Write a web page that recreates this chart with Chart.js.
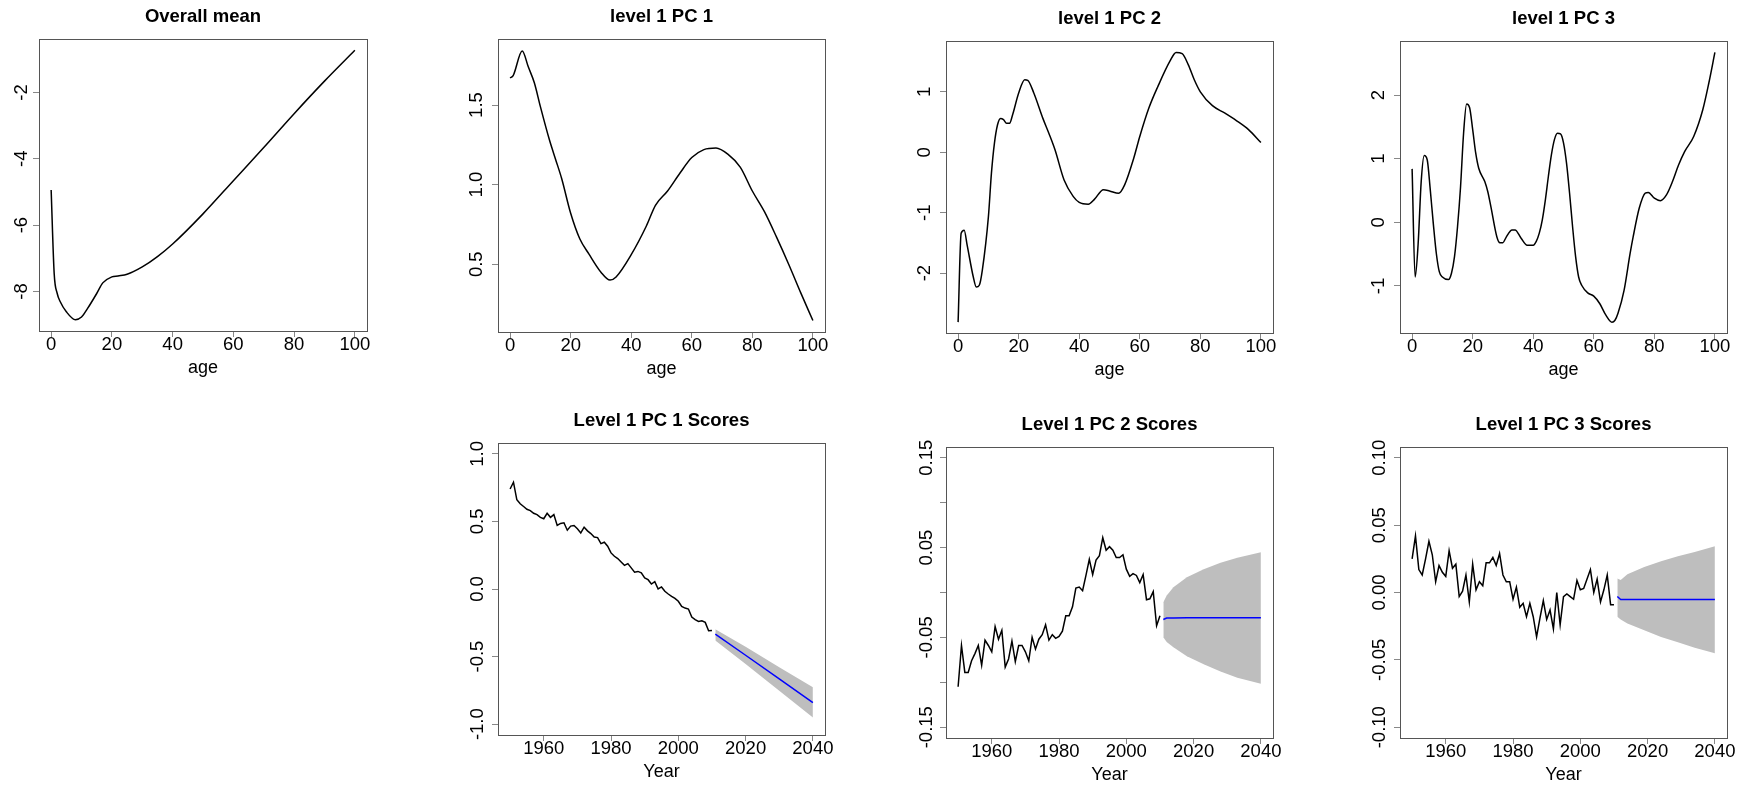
<!DOCTYPE html>
<html>
<head>
<meta charset="utf-8">
<script src="https://cdn.jsdelivr.net/npm/chart.js@4.4.0/dist/chart.umd.min.js"></script>
<style>
body { margin: 0; background: #fff; width: 1745px; height: 785px; overflow: hidden; position: relative; }
canvas { position: absolute; }
</style>
</head>
<body>
<script>
// ---- age curves (top row) ----
var ageTicks = [0, 20, 40, 60, 80, 100];

var meanAges = [0, 1, 2, 3, 5, 8, 10, 12, 15, 17, 20, 22, 25, 30, 35, 40, 50, 60, 70, 80, 90, 100];
var meanVals = [-4.94, -7.46, -8.06, -8.31, -8.61, -8.85, -8.77, -8.51, -8.06, -7.74, -7.56, -7.53, -7.48, -7.26, -6.95, -6.57, -5.66, -4.66, -3.66, -2.64, -1.66, -0.73];
var meanTicks = [-8, -6, -4, -2];

var pc1Ages = [0, 1, 4, 6, 8, 10, 13, 15, 17, 20, 23, 26, 30, 33, 35, 40, 45, 48, 52, 56, 60, 64, 68, 72, 76, 80, 84, 88, 92, 96, 100];
var pc1Vals = [1.67, 1.685, 1.84, 1.74, 1.64, 1.49, 1.28, 1.16, 1.04, 0.82, 0.66, 0.565, 0.45, 0.40, 0.42, 0.56, 0.74, 0.87, 0.96, 1.07, 1.17, 1.22, 1.23, 1.19, 1.11, 0.96, 0.83, 0.67, 0.50, 0.32, 0.146];
var pc1Ticks = [0.5, 1.0, 1.5];

var pc2Ages = [0, 1, 2, 3, 5, 6, 7, 8, 10, 11, 12, 13, 14, 15, 16, 17, 18, 20, 22, 23, 25, 28, 30, 32, 35, 38, 40, 43, 45, 48, 50, 53, 55, 58, 60, 63, 66, 70, 72, 74, 76, 78, 80, 84, 88, 92, 96, 100];
var pc2Vals = [-2.81, -1.34, -1.29, -1.54, -2.06, -2.23, -2.20, -1.95, -1.07, -0.35, 0.15, 0.45, 0.56, 0.54, 0.48, 0.48, 0.62, 0.98, 1.20, 1.19, 0.98, 0.56, 0.31, 0.04, -0.46, -0.73, -0.83, -0.86, -0.78, -0.62, -0.64, -0.68, -0.54, -0.10, 0.26, 0.73, 1.09, 1.51, 1.65, 1.63, 1.45, 1.20, 1.00, 0.77, 0.65, 0.52, 0.37, 0.16];
var pc2Ticks = [-2, -1, 0, 1];

var pc3Ages = [0, 1, 2, 3, 4, 5, 6, 7, 8, 9, 10, 12, 13, 14, 15, 16, 17, 18, 19, 20, 21, 22, 24, 25, 26, 28, 29, 30, 31, 33, 34, 36, 38, 40, 41, 42, 43, 44, 45, 46, 47, 48, 49, 50, 51, 52, 53, 54, 55, 56, 58, 60, 62, 64, 66, 67, 68, 70, 72, 73, 75, 77, 78, 80, 82, 84, 86, 88, 90, 93, 96, 98, 100];
var pc3Vals = [0.84, -0.86, -0.33, 0.64, 1.05, 0.98, 0.51, -0.02, -0.49, -0.78, -0.86, -0.90, -0.80, -0.54, -0.07, 0.56, 1.40, 1.86, 1.80, 1.46, 1.09, 0.85, 0.64, 0.48, 0.25, -0.23, -0.32, -0.32, -0.24, -0.12, -0.12, -0.25, -0.36, -0.36, -0.30, -0.17, 0.04, 0.35, 0.72, 1.06, 1.30, 1.40, 1.39, 1.25, 0.93, 0.46, -0.07, -0.54, -0.86, -0.99, -1.11, -1.16, -1.28, -1.46, -1.57, -1.54, -1.43, -1.07, -0.49, -0.23, 0.22, 0.46, 0.47, 0.38, 0.34, 0.43, 0.64, 0.90, 1.11, 1.35, 1.77, 2.19, 2.67];
var pc3Ticks = [-1, 0, 1, 2];

// ---- scores (bottom row), observed 1950..2010 ----
var firstYear = 1950;
var yearTicks = [1960, 1980, 2000, 2020, 2040];

var score1 = [0.74, 0.79, 0.66, 0.63, 0.61, 0.59, 0.58, 0.56, 0.55, 0.53,
  0.52, 0.56, 0.53, 0.55, 0.47, 0.485, 0.49, 0.435, 0.465, 0.47,
  0.445, 0.415, 0.457, 0.43, 0.41, 0.385, 0.38, 0.336, 0.346, 0.316,
  0.267, 0.242, 0.225, 0.20, 0.175, 0.188, 0.156, 0.124, 0.13, 0.119,
  0.082, 0.069, 0.037, 0.054, 0.0, 0.015, -0.017, -0.037, -0.054, -0.069,
  -0.091, -0.129, -0.141, -0.148, -0.208, -0.227, -0.24, -0.235, -0.247, -0.309, -0.307];
var fc1Years = [2011, 2020, 2030, 2040];
var fc1Mean = [-0.334, -0.49, -0.665, -0.841];
var fc1Upper = [-0.297, -0.428, -0.579, -0.727];
var fc1Lower = [-0.381, -0.554, -0.752, -0.95];
var score1Ticks = [-1, -0.5, 0, 0.5, 1];

var score2 = [-0.105, -0.059, -0.089, -0.089, -0.076, -0.068, -0.059, -0.081, -0.053, -0.059,
  -0.066, -0.038, -0.052, -0.042, -0.083, -0.074, -0.054, -0.077, -0.059, -0.059,
  -0.066, -0.076, -0.050, -0.063, -0.052, -0.047, -0.036, -0.053, -0.047, -0.051,
  -0.049, -0.043, -0.026, -0.026, -0.016, 0.005, 0.006, 0.002, 0.019, 0.037,
  0.020, 0.036, 0.041, 0.061, 0.047, 0.051, 0.047, 0.039, 0.039, 0.042,
  0.026, 0.018, 0.021, 0.019, 0.011, 0.020, -0.008, -0.007, 0.001, -0.037, -0.026];
var fc2Years = [2011, 2012, 2014, 2018, 2023, 2028, 2033, 2040];
var fc2Mean = [-0.030, -0.0285, -0.0285, -0.0282, -0.0282, -0.0282, -0.0282, -0.0282];
var fc2Upper = [-0.0108, -0.0033, 0.0059, 0.017, 0.026, 0.033, 0.0386, 0.0448];
var fc2Lower = [-0.0497, -0.055, -0.061, -0.071, -0.080, -0.088, -0.095, -0.1016];
var score2Ticks = [-0.15, -0.10, -0.05, 0, 0.05, 0.10, 0.15];
var score2Labels = ['-0.15', '-0.05', '0.05', '0.15'];

var score3 = [0.025, 0.042, 0.017, 0.013, 0.025, 0.038, 0.028, 0.008, 0.020, 0.015,
  0.012, 0.031, 0.018, 0.021, -0.003, 0.001, 0.013, -0.007, 0.021, 0.002,
  0.008, 0.005, 0.022, 0.022, 0.026, 0.020, 0.029, 0.013, 0.008, 0.008,
  -0.005, 0.004, -0.011, -0.008, -0.018, -0.008, -0.018, -0.033, -0.019, -0.006,
  -0.020, -0.013, -0.027, 0.000, -0.024, -0.003, -0.001, -0.003, -0.005, 0.009,
  0.002, 0.003, 0.010, 0.017, 0.000, 0.010, -0.007, 0.002, 0.013, -0.009, -0.009];
var fc3Years = [2011, 2012, 2014, 2019, 2024, 2029, 2034, 2040];
var fc3Mean = [-0.003, -0.0052, -0.0052, -0.0052, -0.0052, -0.0052, -0.0052, -0.0052];
var fc3Upper = [0.0104, 0.0092, 0.0136, 0.019, 0.0232, 0.0269, 0.030, 0.0343];
var fc3Lower = [-0.018, -0.020, -0.023, -0.028, -0.033, -0.037, -0.041, -0.045];
var score3Ticks = [-0.10, -0.05, 0, 0.05, 0.10];


Chart.defaults.font.family = '"Liberation Sans", Arial, sans-serif';
Chart.defaults.font.size = 18.5;
Chart.defaults.color = '#000';

// space around each plot box inside its canvas
var ML = 60, MT = 40, MB = 48;

function zip(xs, ys) {
    return xs.map(function (x, i) { return {x: x, y: ys[i]}; });
}

function years(n) {
    var out = [];
    for (let i = 0; i < n; i++) out.push(firstYear + i);
    return out;
}

// R style box round the plot region
var boxPlugin = {
    id: 'box',
    afterDraw: function (chart) {
        var a = chart.chartArea, ctx = chart.ctx;
        ctx.save();
        ctx.strokeStyle = '#555';
        ctx.lineWidth = 1;
        ctx.strokeRect(Math.round(a.left) + 0.5, Math.round(a.top) + 0.5,
            Math.round(a.right - a.left), Math.round(a.bottom - a.top));
        ctx.restore();
    }
};

function ageLine(xs, ys) {
    return [{data: zip(xs, ys), borderColor: '#000', borderWidth: 1.5, cubicInterpolationMode: 'monotone', order: 1}];
}

function scoreLines(obs, fy, fm, fu, fl) {
    return [
        {data: zip(years(obs.length), obs), borderColor: '#000', borderWidth: 1.5, tension: 0, order: 1},
        {data: zip(fy, fm), borderColor: '#0000ff', borderWidth: 1.5, tension: 0, order: 0},
        {data: zip(fy, fu), borderColor: 'rgba(0,0,0,0)', borderWidth: 0, fill: false, order: 3},
        {data: zip(fy, fl), borderColor: 'rgba(0,0,0,0)', borderWidth: 0, backgroundColor: '#bebebe', fill: '-1', order: 2}
    ];
}

function panel(o) {
    var c = document.createElement('canvas');
    c.width = ML + o.w + ML;
    c.height = MT + o.h + MB;
    c.style.left = (o.left - ML) + 'px';
    c.style.top = (o.top - MT) + 'px';
    document.body.appendChild(c);

    new Chart(c, {
        type: 'line',
        data: {datasets: o.datasets},
        options: {
            responsive: false,
            animation: false,
            layout: {padding: {left: 0, right: ML, top: 0, bottom: 0}},
            elements: {point: {radius: 0}},
            plugins: {
                legend: {display: false},
                tooltip: {enabled: false},
                title: {
                    display: true, text: o.title, fullSize: false, color: '#000',
                    font: {size: 18.5, weight: 'bold'},
                    padding: {top: 6.9, bottom: 10.9}
                }
            },
            scales: {
                x: {
                    type: 'linear', min: o.xMin, max: o.xMax,
                    afterBuildTicks: function (s) { s.ticks = o.xTicks.map(function (v) { return {value: v}; }); },
                    afterFit: function (s) { s.height = MB; },
                    grid: {drawOnChartArea: false, tickLength: 6, color: '#888'},
                    border: {display: false},
                    ticks: {autoSkip: false, maxRotation: 0, padding: -3, callback: function (v) { return String(v); }},
                    title: {display: true, text: o.xTitle, font: {size: 18}, padding: {top: 0, bottom: 0}}
                },
                y: {
                    type: 'linear', min: o.yMin, max: o.yMax,
                    afterBuildTicks: function (s) { s.ticks = o.yTicks.map(function (v) { return {value: v}; }); },
                    afterFit: function (s) { s.width = ML; },
                    grid: {drawOnChartArea: false, tickLength: 6, color: '#888'},
                    border: {display: false},
                    ticks: {autoSkip: false, minRotation: 90, maxRotation: 90, crossAlign: 'center', padding: o.yPad, callback: o.yFmt}
                }
            }
        },
        plugins: [boxPlugin]
    });
}

function intFmt(v) { return String(v); }
function fix1(v) { return v.toFixed(1); }
function fix2(v) { return v.toFixed(2); }

panel({title: 'Overall mean', left: 39, top: 39, w: 328, h: 292,
    datasets: ageLine(meanAges, meanVals), xMin: -4, xMax: 104, xTicks: ageTicks, xTitle: 'age',
    yMin: -9.19, yMax: -0.39, yTicks: meanTicks, yFmt: intFmt, yPad: 3.2});

panel({title: 'level 1 PC 1', left: 498, top: 39, w: 327, h: 293,
    datasets: ageLine(pc1Ages, pc1Vals), xMin: -4, xMax: 104, xTicks: ageTicks, xTitle: 'age',
    yMin: 0.074, yMax: 1.915, yTicks: pc1Ticks, yFmt: fix1, yPad: 2.6});

panel({title: 'level 1 PC 2', left: 946, top: 41, w: 327, h: 292,
    datasets: ageLine(pc2Ages, pc2Vals), xMin: -4, xMax: 104, xTicks: ageTicks, xTitle: 'age',
    yMin: -2.99, yMax: 1.84, yTicks: pc2Ticks, yFmt: intFmt, yPad: 6.8});

panel({title: 'level 1 PC 3', left: 1400, top: 41, w: 327, h: 292,
    datasets: ageLine(pc3Ages, pc3Vals), xMin: -4, xMax: 104, xTicks: ageTicks, xTitle: 'age',
    yMin: -1.74, yMax: 2.85, yTicks: pc3Ticks, yFmt: intFmt, yPad: 6.5});

panel({title: 'Level 1 PC 1 Scores', left: 498, top: 443, w: 327, h: 292,
    datasets: scoreLines(score1, fc1Years, fc1Mean, fc1Upper, fc1Lower),
    xMin: 1946.4, xMax: 2043.6, xTicks: yearTicks, xTitle: 'Year',
    yMin: -1.08, yMax: 1.08, yTicks: score1Ticks, yFmt: fix1, yPad: -2.2});

panel({title: 'Level 1 PC 2 Scores', left: 946, top: 447, w: 327, h: 291,
    datasets: scoreLines(score2, fc2Years, fc2Mean, fc2Upper, fc2Lower),
    xMin: 1946.4, xMax: 2043.6, xTicks: yearTicks, xTitle: 'Year',
    yMin: -0.162, yMax: 0.162, yTicks: score2Ticks,
    yFmt: function (v) { var s = v.toFixed(2); return score2Labels.indexOf(s) >= 0 ? s : ''; }, yPad: -7.6});

panel({title: 'Level 1 PC 3 Scores', left: 1400, top: 447, w: 327, h: 291,
    datasets: scoreLines(score3, fc3Years, fc3Mean, fc3Upper, fc3Lower),
    xMin: 1946.4, xMax: 2043.6, xTicks: yearTicks, xTitle: 'Year',
    yMin: -0.108, yMax: 0.108, yTicks: score3Ticks, yFmt: fix2, yPad: -7.0});
</script>
</body>
</html>
